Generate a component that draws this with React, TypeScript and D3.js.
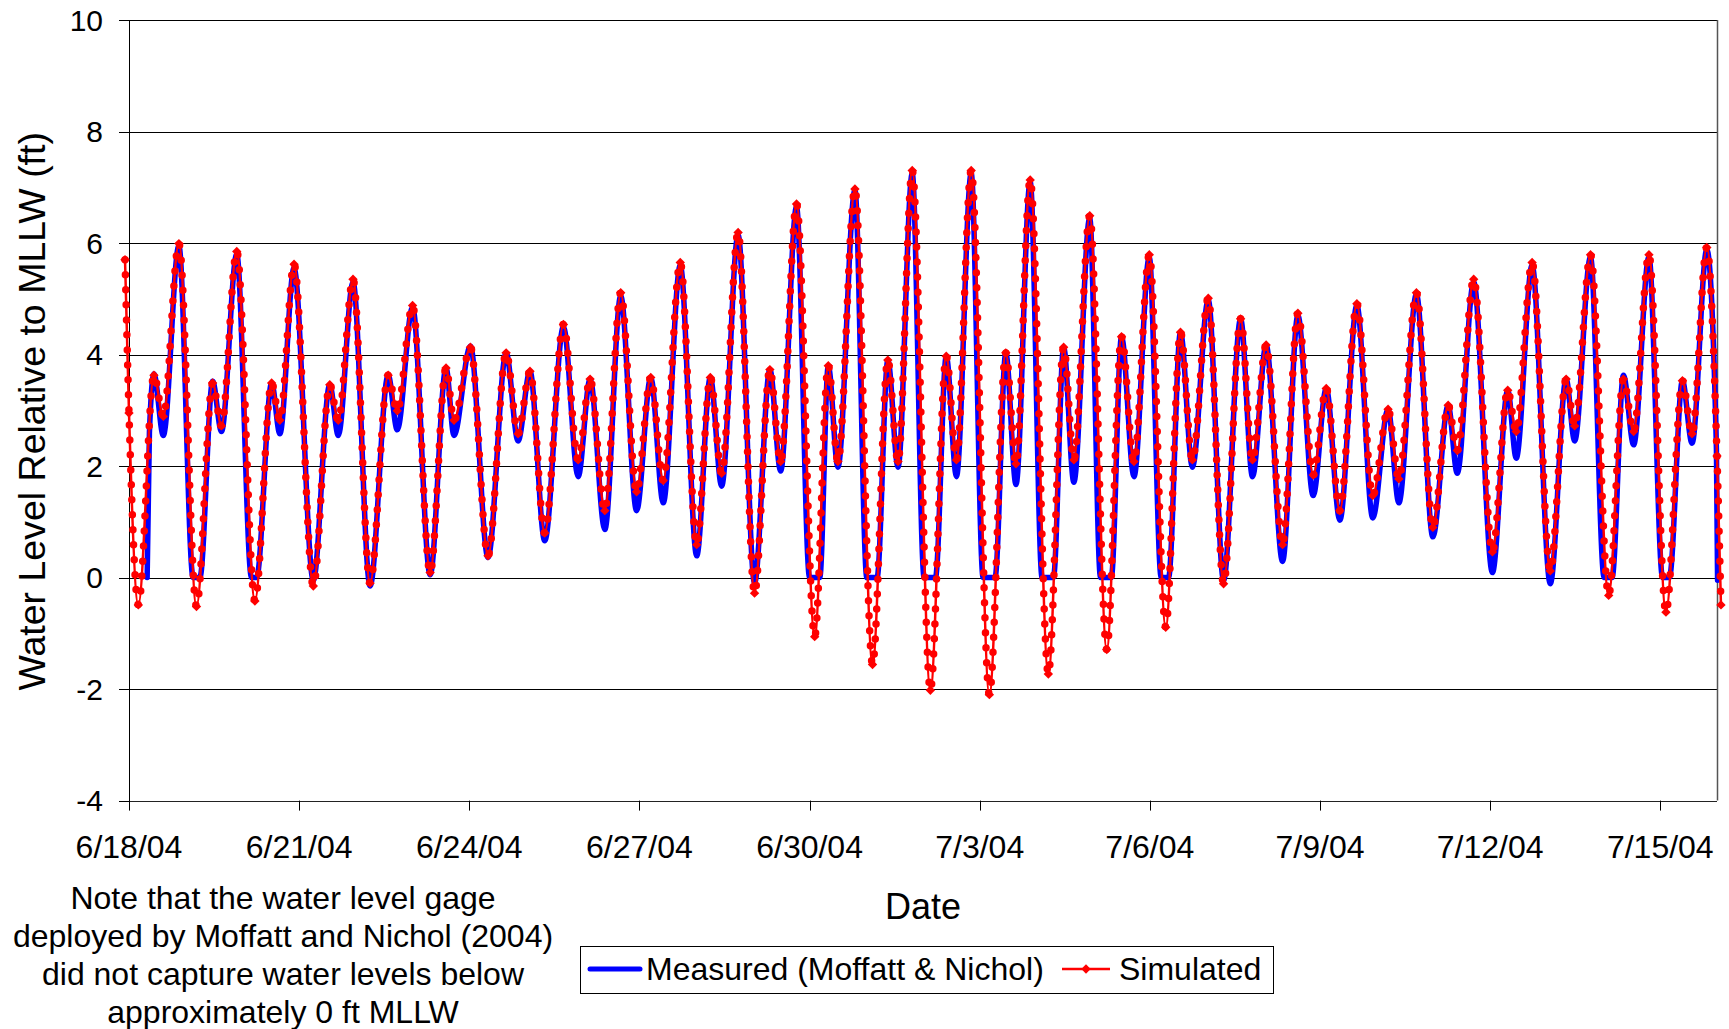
import React from "react";
import * as d3 from "d3";

// ---------- DATA ----------
const startLabel = "6/18/04";
const endLabel = "7/16/04";
const xTickLabels = ["6/18/04", "6/21/04", "6/24/04", "6/27/04", "6/30/04", "7/3/04", "7/6/04", "7/9/04", "7/12/04", "7/15/04"];
const yTickValues = [10, 8, 6, 4, 2, 0, -2, -4];

// Simulated series: turning points (days after 6/18/04 00:00, ft MLLW)
const simDays = [
  -0.07, 0.0, 0.165, 0.44, 0.605, 0.88, 1.19, 1.475, 1.63, 1.9, 2.22, 2.515, 2.66, 2.91, 3.25,
  3.54, 3.69, 3.95, 4.25, 4.57, 4.73, 5.0, 5.31, 5.59, 5.73, 6.02, 6.33, 6.65, 6.86, 7.07, 7.33,
  7.66, 7.92, 8.13, 8.39, 8.67, 8.95, 9.2, 9.42, 9.72, 10.01, 10.25, 10.45, 10.74, 11.03, 11.3,
  11.49, 11.77, 12.09, 12.33, 12.5, 12.8, 13.11, 13.38, 13.56, 13.81, 14.13, 14.41, 14.59, 14.85,
  15.17, 15.46, 15.64, 15.89, 16.21, 16.48, 16.66, 16.94, 17.24, 17.5, 17.72, 17.99, 18.28, 18.54,
  18.75, 19.03, 19.3, 19.6, 19.81, 20.05, 20.34, 20.61, 20.88, 21.11, 21.35, 21.65, 21.93, 22.2,
  22.39, 22.7, 22.99, 23.26, 23.42, 23.71, 24.04, 24.31, 24.46, 24.74, 25.06, 25.34, 25.49, 25.77,
  26.09, 26.35, 26.53, 26.8, 27.1, 27.39, 27.56, 27.82, 28.0, 28.07,
];
const simLevels = [
  5.7, 2.95, -0.49, 3.63, 2.89, 5.99, -0.52, 3.49, 2.72, 5.85, -0.42, 3.49, 2.82, 5.62, -0.15,
  3.46, 2.82, 5.35, -0.1, 3.63, 2.99, 4.88, 0.09, 3.76, 2.82, 4.13, 0.39, 4.03, 2.58, 3.7, 0.8,
  4.54, 2.11, 3.56, 1.2, 5.11, 1.54, 3.59, 1.74, 5.65, 0.59, 3.59, 1.87, 6.19, -0.28, 3.73,
  2.08, 6.7, -1.06, 3.8, 2.08, 6.97, -1.56, 3.9, 2.08, 7.3, -2.02, 3.97, 2.11, 7.3,
  -2.1, 4.03, 2.04, 7.13, -1.73, 4.13, 2.11, 6.49, -1.29, 4.32, 2.08, 5.79, -0.89, 4.4,
  2.11, 5.01, -0.11, 4.64, 2.11, 4.17, 0.59, 4.74, 1.84, 3.39, 1.2, 4.91, 1.47, 3.02,
  1.77, 5.11, 0.9, 3.09, 2.28, 5.35, 0.46, 3.36, 2.62, 5.65, 0.12, 3.56, 2.72, 5.79,
  -0.32, 3.56, 2.62, 5.79, -0.62, 3.53, 2.58, 5.92, 2.18, -0.49,
];

// Measured series: turning points (gage clipped near 0 ft -> flat bottoms)
const measDays = [
  0.32, 0.36, 0.44, 0.605, 0.88, 1.13, 1.25, 1.475, 1.63, 1.9, 2.16, 2.25, 2.515, 2.66, 2.91, 3.25,
  3.54, 3.69, 3.95, 4.25, 4.57, 4.73, 5.0, 5.31, 5.59, 5.73, 6.02, 6.33, 6.65, 6.86, 7.07, 7.33,
  7.66, 7.92, 8.13, 8.39, 8.67, 8.95, 9.2, 9.42, 9.72, 10.01, 10.25, 10.45, 10.74, 11.03, 11.3,
  11.49, 11.77, 12.0, 12.18, 12.33, 12.5, 12.8, 13.01, 13.19, 13.38, 13.56, 13.81, 14.02, 14.22,
  14.41, 14.59, 14.85, 15.06, 15.27, 15.46, 15.64, 15.89, 16.1, 16.3, 16.48, 16.66, 16.94, 17.13,
  17.32, 17.5, 17.72, 17.99, 18.2, 18.33, 18.54, 18.75, 19.03, 19.3, 19.6, 19.81, 20.05, 20.34,
  20.61, 20.88, 21.11, 21.35, 21.65, 21.93, 22.2, 22.39, 22.7, 22.99, 23.26, 23.42, 23.71, 24.04,
  24.31, 24.46, 24.74, 25.06, 25.34, 25.49, 25.77, 26.01, 26.15, 26.35, 26.53, 26.8, 27.04, 27.16,
  27.39, 27.56, 27.82, 27.99, 28.01,
];
const measLevels = [
  0.0, 2.6, 3.65, 2.55, 5.95, 0.0, 0.0, 3.52, 2.62, 5.8, 0.0, 0.0, 3.49, 2.58, 5.55, -0.05,
  3.46, 2.55, 5.3, -0.15, 3.63, 2.65, 4.85, 0.05, 3.76, 2.55, 4.15, 0.36, 4.03, 2.45, 3.7, 0.66,
  4.5, 1.81, 3.56, 0.86, 5.05, 1.2, 3.59, 1.34, 5.6, 0.39, 3.59, 1.64, 6.15, -0.1, 3.73,
  1.91, 6.65, 0.0, 0.0, 3.8, 1.98, 6.95, 0.0, 0.0, 3.9, 1.98, 7.25, 0.0, 0.0,
  3.97, 1.81, 7.25, 0.0, 0.0, 4.03, 1.67, 7.1, 0.0, 0.0, 4.13, 1.71, 6.45, 0.0,
  0.0, 4.32, 1.81, 5.75, 0.0, 0.0, 4.4, 1.98, 4.98, -0.05, 4.64, 1.81, 4.17, 0.29,
  4.7, 1.47, 3.39, 1.03, 4.88, 1.07, 3.02, 1.34, 5.08, 0.73, 3.09, 1.87, 5.3, 0.09,
  3.36, 2.14, 5.6, -0.11, 3.56, 2.45, 5.75, 0.0, 0.0, 3.63, 2.38, 5.75, 0.0, 0.0,
  3.53, 2.41, 5.88, 2.3, -0.05,
];

const noteLines = [
  "Note that the water level gage",
  "deployed by Moffatt and Nichol (2004)",
  "did not capture water levels below",
  "approximately 0 ft MLLW",
];

// ---------- CHART ----------
const W = 1729;
const H = 1029;
const plot = { left: 129, right: 1717, top: 20, bottom: 800.6 };
const FONT = "'Liberation Sans', Arial, Helvetica, sans-serif";

const parse = d3.utcParse("%m/%d/%y");
const t0 = parse(startLabel) as Date;
const t1 = parse(endLabel) as Date;
const toDate = (d: number) => new Date(t0.getTime() + d * 86400000);

type Pt = [Date, number];
const simData: Pt[] = simDays.map((d, i) => [toDate(d), simLevels[i]]);
const measData: Pt[] = measDays.map((d, i) => [toDate(d), measLevels[i]]);

const diamond = {
  draw(ctx: any, size: number) {
    const r = Math.sqrt(size / 2);
    ctx.moveTo(0, -r);
    ctx.lineTo(r, 0);
    ctx.lineTo(0, r);
    ctx.lineTo(-r, 0);
    ctx.closePath();
  },
};

export default function App() {
  const x = d3.scaleUtc().domain([t0, t1]).range([plot.left, plot.right]);
  const y = d3.scaleLinear().domain([-4, 10]).range([plot.bottom, plot.top]);

  const line = d3
    .line<Pt>()
    .x((d) => x(d[0]))
    .y((d) => y(d[1]))
    .curve(d3.curveMonotoneX);

  const simPath = line(simData) || "";
  const measPath = line(measData) || "";
  const sym = d3.symbol().type(diamond as any).size(44)() || "";

  const xTicks = xTickLabels.map((l) => ({ label: l, date: parse(l) as Date }));

  return (
    <svg
      width={W}
      height={H}
      style={{ position: "absolute", left: 0, top: 0, background: "#fff" }}
      fontFamily={FONT}
    >
      <rect x={0} y={0} width={W} height={H} fill="#fff" />
      {/* gridlines */}
      {yTickValues.map((v) => (
        <line
          key={"g" + v}
          x1={plot.left}
          x2={plot.right}
          y1={Math.round(y(v)) + 0.5}
          y2={Math.round(y(v)) + 0.5}
          stroke={v === -4 ? "#222" : "#000"}
          strokeWidth={1}
        />
      ))}
      {/* right border */}
      <line x1={plot.right + 0.5} x2={plot.right + 0.5} y1={plot.top} y2={plot.bottom} stroke="#555" strokeWidth={1.5} />
      {/* left axis */}
      <line x1={plot.left + 0.5} x2={plot.left + 0.5} y1={plot.top} y2={Math.round(plot.bottom) + 0.5} stroke="#000" strokeWidth={1} />
      {yTickValues.map((v) => (
        <g key={"yt" + v}>
          <line x1={plot.left - 10} x2={plot.left} y1={Math.round(y(v)) + 0.5} y2={Math.round(y(v)) + 0.5} stroke="#000" />
          <text x={103} y={y(v)} fontSize={30} textAnchor="end" dominantBaseline="central" fill="#000">
            {v}
          </text>
        </g>
      ))}
      {/* x axis ticks */}
      {xTicks.map((t) => (
        <g key={"xt" + t.label}>
          <line
            x1={Math.round(x(t.date)) + 0.5}
            x2={Math.round(x(t.date)) + 0.5}
            y1={plot.bottom}
            y2={plot.bottom + 10}
            stroke="#000"
          />
          <text x={x(t.date)} y={858} fontSize={32} textAnchor="middle" fill="#000">
            {t.label}
          </text>
        </g>
      ))}

      {/* measured */}
      <path d={measPath} fill="none" stroke="#0000FF" strokeWidth={5.5} strokeLinejoin="round" strokeLinecap="round" />
      {/* simulated */}
      <path d={simPath} fill="none" stroke="#FF0000" strokeWidth={2.5} strokeLinejoin="round" />
      <path d={simPath} fill="none" stroke="#FF0000" strokeWidth={7.5} strokeDasharray="0 15" strokeLinecap="round" />
      {simData.map((d, i) => (
        <path key={"m" + i} d={sym} transform={`translate(${x(d[0])},${y(d[1])})`} fill="#FF0000" />
      ))}

      {/* axis titles */}
      <text x={923} y={919} fontSize={36} textAnchor="middle" fill="#000">
        Date
      </text>
      <text transform={`translate(45,${(plot.top + plot.bottom) / 2 + 1}) rotate(-90)`} fontSize={37.5} textAnchor="middle" fill="#000">
        Water Level Relative to MLLW (ft)
      </text>

      {/* note */}
      {noteLines.map((l, i) => (
        <text key={"n" + i} x={283} y={909 + i * 38} fontSize={32} textAnchor="middle" fill="#000">
          {l}
        </text>
      ))}

      {/* legend */}
      <rect x={580.5} y={946.5} width={693} height={47} fill="#fff" stroke="#000" strokeWidth={1} />
      <line x1={590} x2={640} y1={969} y2={969} stroke="#0000FF" strokeWidth={5} strokeLinecap="round" />
      <text x={646} y={980} fontSize={32} fill="#000">
        Measured (Moffatt &amp; Nichol)
      </text>
      <line x1={1062} x2={1110} y1={969} y2={969} stroke="#FF0000" strokeWidth={2.5} />
      <path d={sym} transform="translate(1086,969)" fill="#FF0000" />
      <text x={1119} y={980} fontSize={32} fill="#000">
        Simulated
      </text>
    </svg>
  );
}
